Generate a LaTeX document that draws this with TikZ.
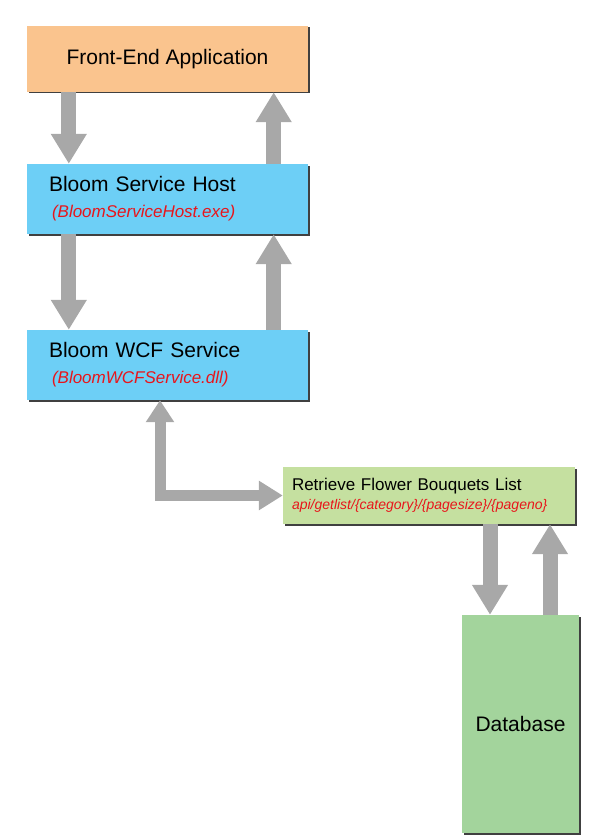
\documentclass[tikz,border=0pt]{standalone}
\usepackage{fontspec}
\setmainfont{Liberation Sans}
\usepackage{xcolor}
\usetikzlibrary{arrows.meta}
\usetikzlibrary{shadows}
\definecolor{frontorange}{HTML}{FAC48E}
\definecolor{hostblue}{HTML}{6DCFF6}
\definecolor{listgreen}{HTML}{C5E0A0}
\definecolor{dbgreen}{HTML}{A3D49C}
\definecolor{arrowgray}{HTML}{A8A8A8}
\definecolor{urlred}{HTML}{E8151B}
\newcommand{\bigtxt}{\fontsize{21}{26}\selectfont}
\newcommand{\subtxt}{\fontsize{17}{26}\selectfont\itshape\color{urlred}}

\begin{document}
\begin{tikzpicture}[x=1pt,y=-1pt,
  box/.style={inner sep=0pt, drop shadow={shadow xshift=1.5pt,shadow yshift=-1.5pt,fill=black!75,opacity=1}},
  svcbox/.style={box, fill=hostblue, minimum width=281pt, minimum height=70pt, text width=237pt, inner xsep=22pt, align=left, font=\bigtxt},
  bigarrow/.style={draw=arrowgray, line width=15pt, -{Triangle[width=34pt,length=30pt]}},
  elbowarrow/.style={draw=arrowgray, line width=11pt, line join=miter, {Triangle[width=27pt,length=22pt]}-{Triangle[width=28pt,length=24pt]}}]
\useasboundingbox (0,0) rectangle (600,840);

% boxes
\node[box, fill=frontorange, minimum width=281pt, minimum height=66pt, font=\bigtxt] (front) at (167.5,59) {Front-End Application};
\node[svcbox] (host) at (167.5,199) {Bloom Service Host\\{\subtxt\hspace{3pt}(BloomServiceHost.exe)}};
\node[svcbox] (wcf) at (167.5,365) {Bloom WCF Service\\{\subtxt\hspace{3pt}(BloomWCFService.dll)}};
\node[box, fill=listgreen, minimum width=292pt, minimum height=57pt, text width=274pt, inner xsep=9pt, align=left, font=\fontsize{17}{19}\selectfont] (list) at (429,495.5)
  {Retrieve Flower Bouquets List\\{\fontsize{14}{19}\selectfont\itshape\color{urlred}api/getlist/\{category\}/\{pagesize\}/\{pageno\}}};
\node[box, fill=dbgreen, minimum width=117pt, minimum height=218pt, font=\bigtxt] (db) at (520.5,724) {Database};

% arrows
\draw[bigarrow] ([xshift=42pt]front.south west) -- ([xshift=42pt]host.north west);
\draw[bigarrow] ([xshift=-34.5pt]host.north east) -- ([xshift=-34.5pt]front.south east);
\draw[bigarrow] ([xshift=42pt]host.south west) -- ([xshift=42pt]wcf.north west);
\draw[bigarrow] ([xshift=-34.5pt]wcf.north east) -- ([xshift=-34.5pt]host.south east);
\draw[elbowarrow] ([xshift=-7.5pt]wcf.south) |- (list.west);
\draw[bigarrow] ([xshift=-30.5pt]db.north |- list.south) -- ([xshift=-30.5pt]db.north);
\draw[bigarrow] ([xshift=29.5pt]db.north) -- ([xshift=29.5pt]db.north |- list.south);

\end{tikzpicture}
\end{document}
